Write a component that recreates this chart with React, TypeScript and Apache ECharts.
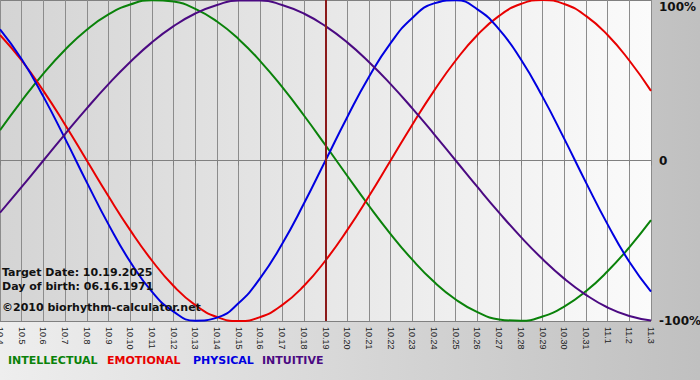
import React, { useEffect, useRef } from "react";
import * as echarts from "echarts";

const categories = [
  "10.4", "10.5", "10.6", "10.7", "10.8", "10.9", "10.10", "10.11", "10.12", "10.13",
  "10.14", "10.15", "10.16", "10.17", "10.18", "10.19", "10.20", "10.21", "10.22", "10.23",
  "10.24", "10.25", "10.26", "10.27", "10.28", "10.29", "10.30", "10.31", "11.1", "11.2", "11.3",
];

const physical = [81.7, 63.1, 39.8, 13.6, -13.6, -39.8, -63.1, -81.7, -94.2, -99.8, -97.9, -88.8, -73.1, -52.0, -27.0, 0, 27.0, 52.0, 73.1, 88.8, 97.9, 99.8, 94.2, 81.7, 63.1, 39.8, 13.6, -13.6, -39.8, -63.1, -81.7];
const emotional = [78.2, 62.3, 43.4, 22.3, 0, -22.3, -43.4, -62.3, -78.2, -90.1, -97.5, -100, -97.5, -90.1, -78.2, -62.3, -43.4, -22.3, 0, 22.3, 43.4, 62.3, 78.2, 90.1, 97.5, 100, 97.5, 90.1, 78.2, 62.3, 43.4];
const intellectual = [18.9, 37.2, 54.1, 69.0, 81.5, 91.0, 97.2, 99.9, 99.0, 94.5, 86.6, 75.6, 61.8, 45.8, 28.2, 9.5, -9.5, -28.2, -45.8, -61.8, -75.6, -86.6, -94.5, -99.0, -99.9, -97.2, -91.0, -81.5, -69.0, -54.1, -37.2];
const intuitive = [-32.5, -16.5, 0, 16.5, 32.5, 47.6, 61.4, 73.6, 83.7, 91.6, 96.9, 99.7, 99.7, 96.9, 91.6, 83.7, 73.6, 61.4, 47.6, 32.5, 16.5, 0, -16.5, -32.5, -47.6, -61.4, -73.6, -83.7, -91.6, -96.9, -99.7];

const targetDay = "10.19";
const infoLines = ["Target Date: 10.19.2025", "Day of birth: 06.16.1971", "\u00a92010 biorhythm-calculator.net"];
const legendNames = ["INTELLECTUAL", "EMOTIONAL", "PHYSICAL", "INTUITIVE"];
const colors = ["#0a820a", "#e80000", "#0000e0", "#4b0a82"];

const FONT = "DejaVu Sans";

export default function App() {
  const ref = useRef<HTMLDivElement>(null);
  useEffect(() => {
    if (!ref.current) return;
    const chart = echarts.init(ref.current, null, { renderer: "svg" });
    const mkSeries = (name: string, data: number[], color: string, extra: any = {}) => ({
      name,
      type: "line",
      data,
      smooth: true,
      showSymbol: false,
      lineStyle: { color, width: 2 },
      itemStyle: { color },
      ...extra,
    });
    const legendX = [8, 107, 193, 262];
    const labelStyle = { fontSize: 12, fontWeight: "bold", fontFamily: FONT, color: "#111" };
    chart.setOption({
      animation: false,
      backgroundColor: new echarts.graphic.LinearGradient(0, 0, 1, 0, [
        { offset: 0, color: "#eeeeee" },
        { offset: 1, color: "#c0c0c0" },
      ]),
      grid: {
        left: 0,
        right: 49,
        top: 0,
        bottom: 59,
        containLabel: false,
        outerBoundsMode: "none",
        show: true,
        borderWidth: 0,
        backgroundColor: new echarts.graphic.LinearGradient(0, 0, 1, 0, [
          { offset: 0, color: "#d4d4d4" },
          { offset: 1, color: "#fbfbfb" },
        ]),
      },
      xAxis: {
        type: "category",
        data: categories,
        boundaryGap: false,
        axisLine: { lineStyle: { color: "#808080", width: 1 } },
        axisTick: { show: true, length: 5, lineStyle: { color: "#808080" }, alignWithLabel: true },
        splitLine: { show: true, lineStyle: { color: "#8c8c8c", width: 1 } },
        axisLabel: {
          rotate: -90,
          interval: 0,
          fontSize: 9,
          fontFamily: "Liberation Sans",
          color: "#222",
          margin: 6,
        },
      },
      yAxis: {
        type: "value",
        position: "right",
        min: -100,
        max: 100,
        interval: 100,
        axisLine: { show: false },
        axisTick: { show: false },
        splitLine: { show: true, lineStyle: { color: "#808080", width: 1 } },
        axisLabel: {
          ...labelStyle,
          margin: 8,
          formatter: (v: number) => (v === 100 ? "{top|100%}" : v === 0 ? "0" : v + "%"),
          rich: {
            top: { ...labelStyle, padding: [13, 0, 0, 0] },
          },
        },
      },
      series: [
        mkSeries("INTELLECTUAL", intellectual, colors[0], {
          markLine: {
            silent: true,
            symbol: "none",
            label: { show: false },
            lineStyle: { color: "#8b1a1a", width: 2, type: "solid" },
            data: [{ xAxis: targetDay }],
          },
        }),
        mkSeries("EMOTIONAL", emotional, colors[1]),
        mkSeries("PHYSICAL", physical, colors[2]),
        mkSeries("INTUITIVE", intuitive, colors[3]),
      ],
      graphic: [
        ...infoLines.map((t, i) => ({
          type: "text",
          left: 2,
          top: [267, 281, 302][i],
          z: 10,
          style: { text: t, fontSize: 11, fontWeight: "bold", fontFamily: FONT, fill: "#111" },
        })),
        ...legendNames.map((t, i) => ({
          type: "text",
          left: legendX[i],
          top: 355,
          z: 10,
          style: { text: t, fontSize: 11, fontWeight: "bold", fontFamily: FONT, fill: colors[i] },
        })),
      ],
    });
    return () => chart.dispose();
  }, []);
  return <div ref={ref} style={{ position: "fixed", left: 0, top: 0, width: 700, height: 380 }} />;
}
